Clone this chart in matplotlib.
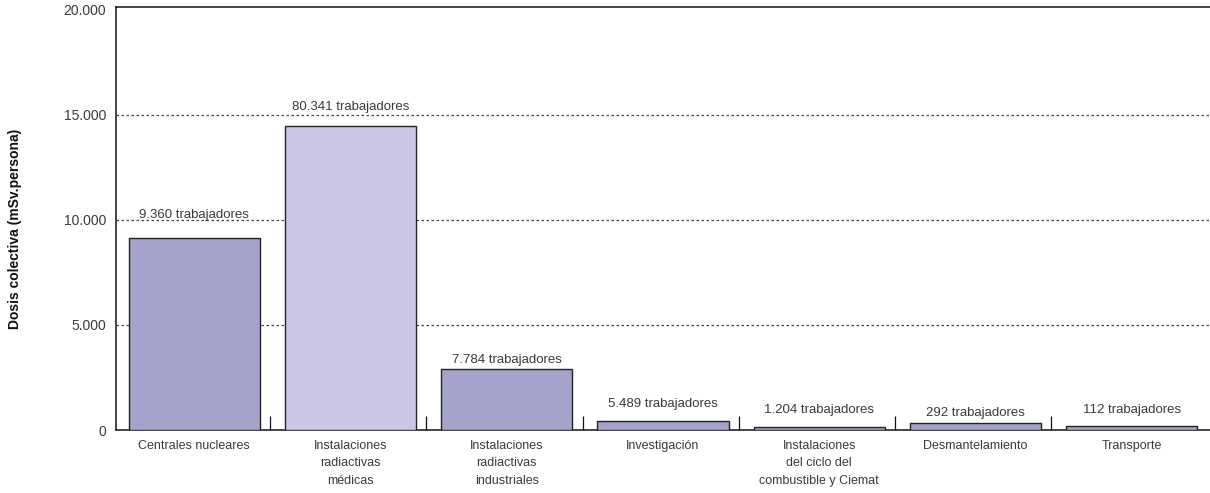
import matplotlib
matplotlib.use('Agg')
from matplotlib import pyplot as plt

# Datos del gráfico
categorias = ['Centrales nucleares', 'Instalaciones\nradiactivas\nmédicas',
	'Instalaciones\nradiactivas\nindustriales', 'Investigación',
	'Instalaciones\ndel ciclo del\ncombustible y Ciemat',
	'Desmantelamiento', 'Transporte']
dosis = [9140, 14480, 2900, 430, 130, 320, 205]
trabajadores = ['9.360', '80.341', '7.784', '5.489', '1.204', '292', '112']
y_ticks = [0, 5000, 10000, 15000, 20000]
y_tick_labels = ['0', '5.000', '10.000', '15.000', '20.000']

# Estilo
plt.rcParams['font.family'] = ['Liberation Sans', 'DejaVu Sans']
color_texto = '#3a3a3a'
colores = ['#a3a3cb', '#cbc8e5', '#a3a3cb', '#a3a3cb', '#a3a3cb', '#a3a3cb', '#a3a3cb']
# Separación de las etiquetas sobre las barras (píxeles)
separacion = [23, 19, 9, 17, 17, 10, 16]

fig = plt.figure(figsize=(12.1, 4.93), dpi=100)
ax = fig.add_axes([116 / 1210, 1 - 430 / 493, 1 - 116 / 1210, 423 / 493])

x = range(len(categorias))
ax.bar(x, dosis, width=0.84, color=colores, edgecolor='#222222', linewidth=1, zorder=3)

# Etiquetas de trabajadores
for i in x:
	ax.annotate(f'{trabajadores[i]} trabajadores', (i, dosis[i]),
		xytext=(0, separacion[i]), textcoords='offset pixels',
		ha='center', va='center', fontsize=9.5, color=color_texto, zorder=4)

# Líneas de cuadrícula punteadas
for v in y_ticks[1:-1]:
	ax.axhline(v, color='#444444', linestyle=(0, (2, 2)), linewidth=0.9, zorder=1)

ax.set_xlim(-0.5, 6.5)
ax.set_ylim(0, 20140)
ax.set_yticks(y_ticks)
ax.set_yticklabels(y_tick_labels, fontsize=10, color=color_texto)
ax.tick_params(axis='y', length=0, pad=7)

# Marcas de separación entre categorías
ax.set_xticks([i + 0.485 for i in range(len(categorias) - 1)], minor=True)
ax.set_xticks(list(x))
ax.set_xticklabels(categorias, fontsize=9, color=color_texto, linespacing=1.6, va='top')
ax.tick_params(axis='x', which='major', length=0, pad=7)
ax.tick_params(axis='x', which='minor', direction='in', length=10, width=0.9, color='#111111')

ax.spines['right'].set_visible(False)
for s in ['left', 'bottom', 'top']:
	ax.spines[s].set_color('#111111')
	ax.spines[s].set_linewidth(1.1)

fig.text(15 / 1210, 1 - 229 / 493, 'Dosis colectiva (mSv.persona)', rotation=90,
	ha='center', va='center', fontsize=10, fontweight='bold', color='#111111',
	family=['Liberation Sans Narrow', 'Liberation Sans'])

fig.savefig('out.png', dpi=100)
